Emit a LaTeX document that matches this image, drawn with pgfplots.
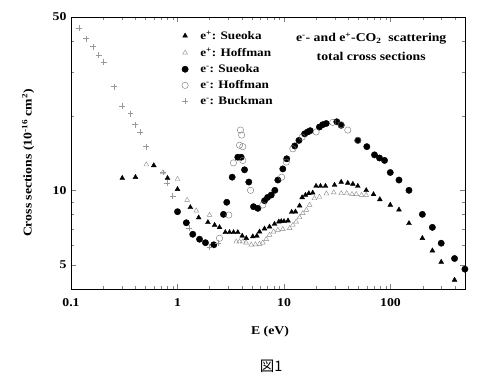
\documentclass[border=0pt]{standalone}
\usepackage{fontspec}
\setmainfont{Liberation Serif}[FakeStretch=1.15]
\newfontfamily\jpfont{Noto Sans CJK JP}
\usepackage{pgfplots}
\pgfplotsset{compat=1.18}
\definecolor{hgray}{gray}{0.55}
\definecolor{cgray}{gray}{0.45}
\definecolor{bgray}{gray}{0.6}
\begin{document}
\begin{tikzpicture}
\begin{axis}[
  scale only axis, width=394bp, height=272bp,
  xmode=log, ymode=log,
  xmin=0.1, xmax=500, ymin=4, ymax=50,
  xtick={0.1,1,10,100}, xticklabels={0.1,1,10,100},
  minor xtick={0.2,0.3,0.4,0.5,0.6,0.7,0.8,0.9,2,3,4,5,6,7,8,9,20,30,40,50,60,70,80,90,200,300,400},
  ytick={5,10,50}, yticklabels={5,10,50},
  minor ytick={4,6,7,8,9,20,30,40},
  tick align=inside,
  major tick length=5bp, minor tick length=3bp,
  ticklabel style={font=\bfseries\fontsize{12}{14}\selectfont},
  xticklabel style={yshift=-6bp},
  yticklabel style={xshift=-1bp},
  xlabel={E (eV)},
  ylabel={Cross sections (10\textsuperscript{-16} cm\textsuperscript{2})},
  label style={font=\bfseries\fontsize{12}{14}\selectfont},
  xlabel style={at={(axis description cs:0.505,-0.156)},anchor=center},
  ylabel style={at={(axis description cs:-0.109,0.463)},anchor=center},
  clip=false,
  legend style={at={(axis description cs:0.281,0.958)}, anchor=north west, draw=none, fill=none,
    font=\bfseries\fontsize{11.5}{13}\selectfont, row sep=2.6bp, column sep=10bp, inner sep=0pt},
  legend cell align=left,
]
% e+ Sueoka
\addplot[only marks, mark=triangle*, mark size=2.8pt, black] coordinates {
(0.303,11.2)(0.403,11.3)(0.599,12.6)(0.806,11.2)(1.0,10.1)(1.32,8.54)(1.58,7.76)(1.93,7.43)
(2.23,7.24)(2.48,7.09)(2.81,6.77)(3.08,6.77)(3.36,6.77)(3.68,6.77)(4.05,6.55)(4.42,6.41)
(5.09,6.51)(5.56,6.55)(5.89,6.81)(6.56,7.0)(7.31,7.13)(8.14,7.31)(8.94,7.47)(9.41,7.5)
(10.0,7.5)(10.9,7.54)(11.8,8.17)(12.8,8.20)(14.0,8.67)(14.8,9.36)(15.9,9.57)(17.1,9.72)
(18.6,9.77)(20.0,10.4)(22.0,10.4)(24.5,10.4)(29.8,10.5)(34.4,10.8)(39.7,10.7)(44.3,10.6)
(49.3,10.4)(59.1,10.0)(69.2,9.63)(79.4,9.19)(99.4,8.73)(120,8.35)(149,7.36)(199,6.41)
(247,5.71)(299,5.14)(399,4.35)
};
\addlegendentry{e\textsuperscript{+}: Sueoka}
% e+ Hoffman
\addplot[only marks, mark=triangle, mark size=2.8pt, hgray] coordinates {
(0.51,12.7)(0.73,11.8)(1.0,11.1)(1.23,9.14)(1.50,8.27)(2.0,7.95)(3.56,6.21)(3.82,6.21)
(4.10,6.21)(4.4,6.15)(4.92,6.03)(5.40,6.05)(5.89,6.08)(6.32,6.15)(6.81,6.35)(7.31,6.61)
(7.97,6.81)(8.75,6.92)(9.74,6.97)(11.3,7.03)(12.1,7.24)(13.0,7.47)(14.0,7.78)(15.0,8.08)
(16.2,8.33)(17.4,8.73)(19.3,9.28)(21.5,9.41)(25,9.7)(29.3,9.8)(34.4,9.72)(38.8,9.72)
(43.5,9.65)(47.6,9.65)(53.4,9.57)(59.1,9.57)
};
\addlegendentry{e\textsuperscript{+}: Hoffman}
% e- Sueoka
\addplot[only marks, mark=*, mark size=3.2pt, black] coordinates {
(1.0,8.2)(1.21,7.40)(1.39,6.65)(1.61,6.35)(1.83,6.15)(2.19,6.03)(2.70,8.0)(2.90,8.95)
(3.26,11.3)(3.68,13.6)(3.96,13.6)(4.26,12.1)(4.67,10.8)(5.17,8.59)(5.68,8.46)(6.56,9.08)
(7.0,9.36)(7.58,9.57)(8.2,10.0)(8.75,11.0)(9.74,12.2)(10.6,13.4)(12.6,15.1)(13.8,15.9)
(15.6,16.9)(16.7,17.2)(17.6,17.4)(21.5,18.0)(23.1,18.4)(24.9,18.6)(31.3,18.9)(34.4,18.3)
(49.3,15.9)(59.9,15.0)(70.7,13.9)(78.8,13.5)(87.8,13.2)(99.4,11.8)(120,11.0)(149,10.0)
(199,8.0)(247,7.09)(299,6.12)(399,5.31)(499,4.81)
};
\addlegendentry{e\textsuperscript{-}: Sueoka}
% e- Hoffman
\addplot[only marks, mark=o, mark size=3.2pt, cgray] coordinates {
(2.48,6.41)(3.03,7.95)(3.35,12.9)(3.82,15.2)(3.9,17.5)(4.0,16.7)(4.10,15.0)(4.10,13.2)
(4.85,10.0)(6.32,8.73)(9.5,11.3)(10.5,13.0)(12.1,14.7)(14.8,16.4)(20.0,17.2)(28.7,18.8)
(34.4,18.4)(39.7,17.5)(49.3,15.9)
};
\addlegendentry{e\textsuperscript{-}: Hoffman}
% e- Buckman
\addplot[only marks, mark=+, mark size=3pt, bgray] coordinates {
(0.120,45.1)(0.139,40.9)(0.160,38.0)(0.182,35.1)(0.202,33.0)(0.252,26.2)(0.303,21.8)
(0.362,20.4)(0.403,18.4)(0.446,17.2)(0.508,15.0)(0.73,11.8)(0.80,10.7)(0.90,9.5)
(1.28,7.03)(2.0,5.90)(2.39,6.12)
};
\addlegendentry{e\textsuperscript{-}: Buckman}
\node[font=\bfseries\fontsize{12}{19}\selectfont, align=center, anchor=north] at (rel axis cs:0.762,0.955)
  {e\textsuperscript{-}- and e\textsuperscript{+}-CO\textsubscript{2}\ \ scattering\\total cross sections};
\node[font=\jpfont\fontsize{14.5}{16}\selectfont] at (rel axis cs:0.508,-0.285) {図1};
\end{axis}
\pgfresetboundingbox
\path (current axis.south west) ++(-71bp,-95bp) rectangle ++(500bp,384bp);
\end{tikzpicture}
\end{document}
